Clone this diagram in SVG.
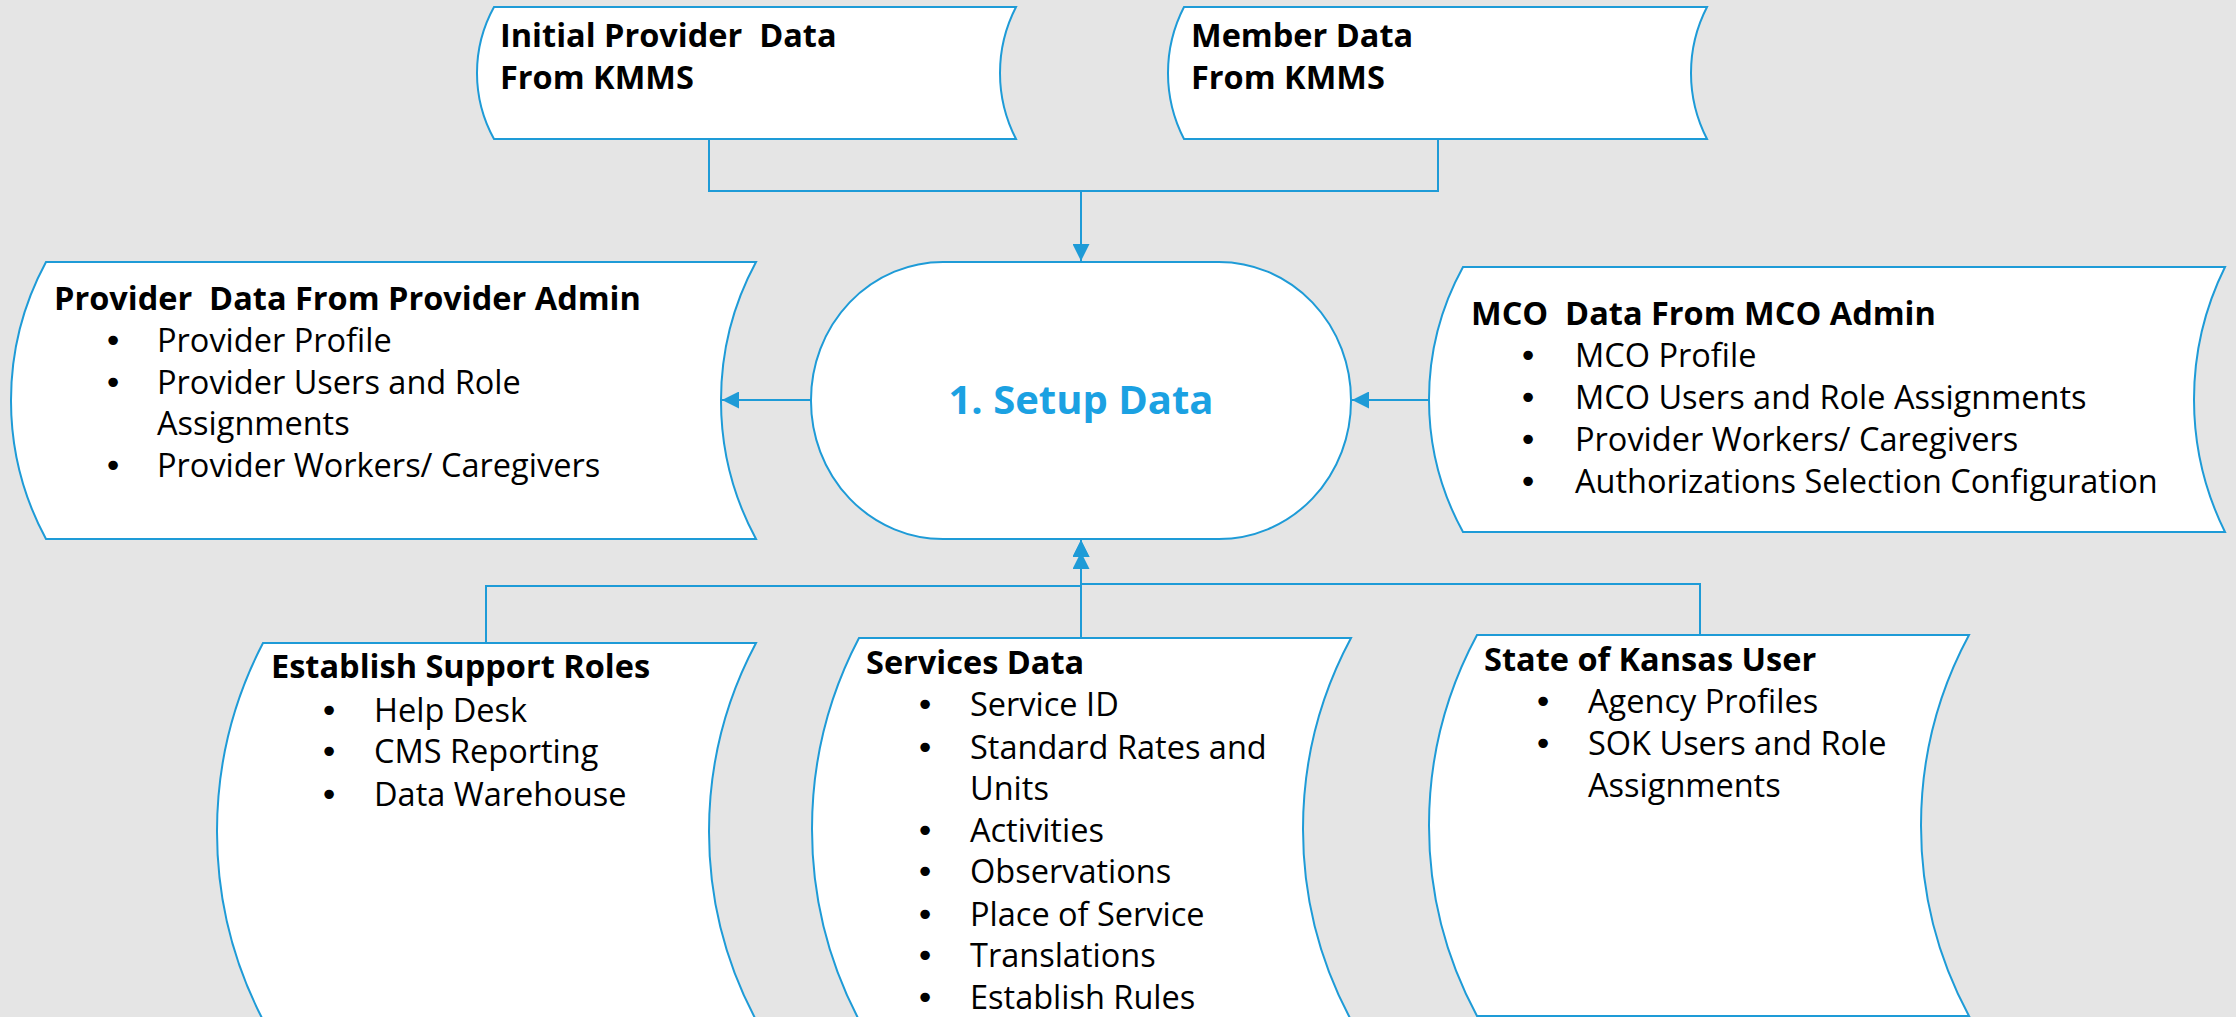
<svg xmlns="http://www.w3.org/2000/svg" width="2236" height="1017" viewBox="0 0 2236 1017">
<style>
.bg{fill:#e5e5e5}
.box{fill:#ffffff;stroke:#1e9bd7;stroke-width:2}
.con{fill:none;stroke:#1e9bd7;stroke-width:2}
.t{font-family:"Open Sans","Liberation Sans",sans-serif;font-size:32.5px;fill:#000;white-space:pre}
.b{font-weight:bold}
.bul{font-family:"DejaVu Sans",sans-serif;font-size:32.5px;fill:#000;text-anchor:middle}
.title{font-family:"Open Sans","Liberation Sans",sans-serif;font-size:40px;font-weight:bold;fill:#1ba1e2;text-anchor:middle}
</style>
<defs>
<marker id="arr" viewBox="0 0 17 17" refX="17" refY="8.5" markerWidth="17" markerHeight="17" markerUnits="userSpaceOnUse" orient="auto">
<path d="M0,0 L17,8.5 L0,17 Z" fill="#1e9bd7"/>
</marker>
</defs>
<rect class="bg" x="0" y="0" width="2236" height="1017"/>

<g id="connectors">
<path class="con" d="M709,139 V191 H1081 V261" marker-end="url(#arr)"/>
<path class="con" d="M1438,139 V191 H1081 V261"/>
<path class="con" d="M811,400 H722" marker-end="url(#arr)"/>
<path class="con" d="M1429,400 H1352" marker-end="url(#arr)"/>
<path class="con" d="M1081,638 V540" marker-end="url(#arr)"/>
<path class="con" d="M486,647 V586 H1081 V540" marker-end="url(#arr)"/>
<path class="con" d="M1700,635 V584 H1081 V552" marker-end="url(#arr)"/>
</g>

<g id="initial-provider">
<path class="box" d="M494,7 H1016 A144.1,144.1 0 0 0 1016,139 H494 A136.6,136.6 0 0 1 494,7 Z"/>
<text class="t b" x="500" y="47">Initial Provider  Data</text>
<text class="t b" x="500" y="89">From KMMS</text>
</g>

<g id="member-data">
<path class="box" d="M1184,7 H1707 A144.1,144.1 0 0 0 1707,139 H1184 A144.1,144.1 0 0 1 1184,7 Z"/>
<text class="t b" x="1191" y="47">Member Data</text>
<text class="t b" x="1191" y="89">From KMMS</text>
</g>

<g id="setup-data">
<rect class="box" x="811" y="262" width="540" height="277" rx="132" ry="138"/>
<text class="title" x="1081" y="414">1. Setup Data</text>
</g>

<g id="provider-admin">
<path class="box" d="M46,262 H756 A291.5,291.5 0 0 0 756,539 H46 A291.5,291.5 0 0 1 46,262 Z"/>
<text class="t b" x="54" y="310">Provider  Data From Provider Admin</text>
<text class="bul" x="113" y="352">•</text>
<text class="t" x="157" y="352">Provider Profile</text>
<text class="bul" x="113" y="394">•</text>
<text class="t" x="157" y="394">Provider Users and Role</text>
<text class="t" x="157" y="435">Assignments</text>
<text class="bul" x="113" y="477">•</text>
<text class="t" x="157" y="477">Provider Workers/ Caregivers</text>
</g>

<g id="mco-admin">
<path class="box" d="M1463,267 H2225 A298.7,298.7 0 0 0 2225,532 H1463 A275.2,275.2 0 0 1 1463,267 Z"/>
<text class="t b" x="1471" y="325">MCO  Data From MCO Admin</text>
<text class="bul" x="1528" y="367">•</text>
<text class="t" x="1575" y="367">MCO Profile</text>
<text class="bul" x="1528" y="409">•</text>
<text class="t" x="1575" y="409">MCO Users and Role Assignments</text>
<text class="bul" x="1528" y="451">•</text>
<text class="t" x="1575" y="451">Provider Workers/ Caregivers</text>
<text class="bul" x="1528" y="493">•</text>
<text class="t" x="1575" y="493">Authorizations Selection Configuration</text>
</g>

<g id="support-roles">
<path class="box" d="M263,643 H756 A401.5,401.5 0 0 0 756,1020 H263 A409.2,409.2 0 0 1 263,643 Z"/>
<text class="t b" x="271" y="678">Establish Support Roles</text>
<text class="bul" x="329" y="722">•</text>
<text class="t" x="374" y="722">Help Desk</text>
<text class="bul" x="329" y="763">•</text>
<text class="t" x="374" y="763">CMS Reporting</text>
<text class="bul" x="329" y="806">•</text>
<text class="t" x="374" y="806">Data Warehouse</text>
</g>

<g id="services-data">
<path class="box" d="M859,638 H1351 A404,404 0 0 0 1351,1020 H859 A411.6,411.6 0 0 1 859,638 Z"/>
<text class="t b" x="866" y="674">Services Data</text>
<text class="bul" x="925" y="716">•</text>
<text class="t" x="970" y="716">Service ID</text>
<text class="bul" x="925" y="759">•</text>
<text class="t" x="970" y="759">Standard Rates and</text>
<text class="t" x="970" y="800">Units</text>
<text class="bul" x="925" y="842">•</text>
<text class="t" x="970" y="842">Activities</text>
<text class="bul" x="925" y="883">•</text>
<text class="t" x="970" y="883">Observations</text>
<text class="bul" x="925" y="926">•</text>
<text class="t" x="970" y="926">Place of Service</text>
<text class="bul" x="925" y="967">•</text>
<text class="t" x="970" y="967">Translations</text>
<text class="bul" x="925" y="1009">•</text>
<text class="t" x="970" y="1009">Establish Rules</text>
</g>

<g id="state-of-kansas">
<path class="box" d="M1477,635 H1969 A402,402 0 0 0 1969,1016 H1477 A402,402 0 0 1 1477,635 Z"/>
<text class="t b" x="1484" y="671">State of Kansas User</text>
<text class="bul" x="1543" y="713">•</text>
<text class="t" x="1588" y="713">Agency Profiles</text>
<text class="bul" x="1543" y="755">•</text>
<text class="t" x="1588" y="755">SOK Users and Role</text>
<text class="t" x="1588" y="797">Assignments</text>
</g>
</svg>
